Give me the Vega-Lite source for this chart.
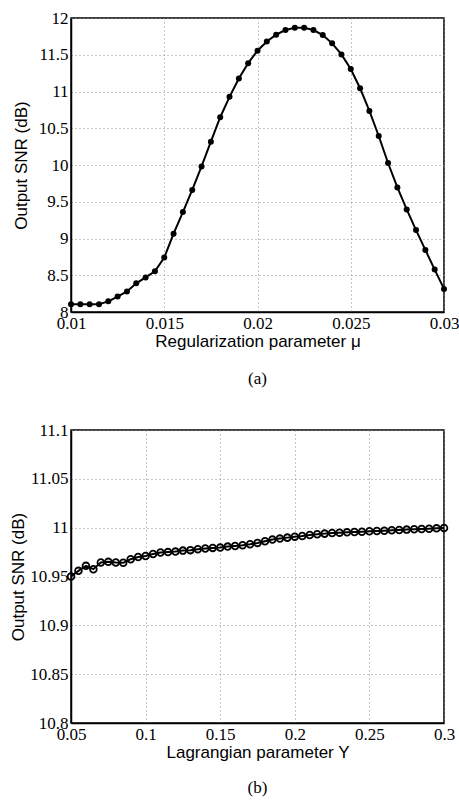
{
  "$schema": "https://vega.github.io/schema/vega-lite/v6.json",
  "background": "white",
  "padding": {"left": 8, "top": 8, "right": 0, "bottom": 0},
  "spacing": 32,
  "datasets": {
    "a": [
      {"mu": 0.01, "snr": 8.105},
      {"mu": 0.0105, "snr": 8.105},
      {"mu": 0.011, "snr": 8.105},
      {"mu": 0.0115, "snr": 8.105},
      {"mu": 0.012, "snr": 8.145},
      {"mu": 0.0125, "snr": 8.21},
      {"mu": 0.013, "snr": 8.28},
      {"mu": 0.0135, "snr": 8.39},
      {"mu": 0.014, "snr": 8.47},
      {"mu": 0.0145, "snr": 8.555},
      {"mu": 0.015, "snr": 8.74},
      {"mu": 0.0155, "snr": 9.065},
      {"mu": 0.016, "snr": 9.36},
      {"mu": 0.0165, "snr": 9.66},
      {"mu": 0.017, "snr": 9.98},
      {"mu": 0.0175, "snr": 10.318},
      {"mu": 0.018, "snr": 10.65},
      {"mu": 0.0185, "snr": 10.927},
      {"mu": 0.019, "snr": 11.177},
      {"mu": 0.0195, "snr": 11.386},
      {"mu": 0.02, "snr": 11.555},
      {"mu": 0.0205, "snr": 11.68},
      {"mu": 0.021, "snr": 11.773},
      {"mu": 0.0215, "snr": 11.836},
      {"mu": 0.022, "snr": 11.868},
      {"mu": 0.0225, "snr": 11.868},
      {"mu": 0.023, "snr": 11.836},
      {"mu": 0.0235, "snr": 11.768},
      {"mu": 0.024, "snr": 11.655},
      {"mu": 0.0245, "snr": 11.505},
      {"mu": 0.025, "snr": 11.305},
      {"mu": 0.0255, "snr": 11.045},
      {"mu": 0.026, "snr": 10.736},
      {"mu": 0.0265, "snr": 10.395},
      {"mu": 0.027, "snr": 10.027},
      {"mu": 0.0275, "snr": 9.695},
      {"mu": 0.028, "snr": 9.395},
      {"mu": 0.0285, "snr": 9.114},
      {"mu": 0.029, "snr": 8.845},
      {"mu": 0.0295, "snr": 8.577},
      {"mu": 0.03, "snr": 8.314}
    ],
    "b": [
      {"gamma": 0.05, "snr": 10.95},
      {"gamma": 0.055, "snr": 10.9558},
      {"gamma": 0.06, "snr": 10.9609},
      {"gamma": 0.065, "snr": 10.9575},
      {"gamma": 0.07, "snr": 10.9643},
      {"gamma": 0.075, "snr": 10.965},
      {"gamma": 0.08, "snr": 10.9643},
      {"gamma": 0.085, "snr": 10.964},
      {"gamma": 0.09, "snr": 10.9677},
      {"gamma": 0.095, "snr": 10.97},
      {"gamma": 0.1, "snr": 10.971},
      {"gamma": 0.105, "snr": 10.973},
      {"gamma": 0.11, "snr": 10.9745},
      {"gamma": 0.115, "snr": 10.975},
      {"gamma": 0.12, "snr": 10.9755},
      {"gamma": 0.125, "snr": 10.9765},
      {"gamma": 0.13, "snr": 10.977},
      {"gamma": 0.135, "snr": 10.978},
      {"gamma": 0.14, "snr": 10.9786},
      {"gamma": 0.145, "snr": 10.9793},
      {"gamma": 0.15, "snr": 10.9796},
      {"gamma": 0.155, "snr": 10.9806},
      {"gamma": 0.16, "snr": 10.9813},
      {"gamma": 0.165, "snr": 10.982},
      {"gamma": 0.17, "snr": 10.983},
      {"gamma": 0.175, "snr": 10.9844},
      {"gamma": 0.18, "snr": 10.9861},
      {"gamma": 0.185, "snr": 10.9878},
      {"gamma": 0.19, "snr": 10.9888},
      {"gamma": 0.195, "snr": 10.9898},
      {"gamma": 0.2, "snr": 10.9908},
      {"gamma": 0.205, "snr": 10.9915},
      {"gamma": 0.21, "snr": 10.9925},
      {"gamma": 0.215, "snr": 10.9932},
      {"gamma": 0.22, "snr": 10.9939},
      {"gamma": 0.225, "snr": 10.9946},
      {"gamma": 0.23, "snr": 10.9949},
      {"gamma": 0.235, "snr": 10.9952},
      {"gamma": 0.24, "snr": 10.9956},
      {"gamma": 0.245, "snr": 10.9959},
      {"gamma": 0.25, "snr": 10.9963},
      {"gamma": 0.255, "snr": 10.9966},
      {"gamma": 0.26, "snr": 10.9969},
      {"gamma": 0.265, "snr": 10.9973},
      {"gamma": 0.27, "snr": 10.9976},
      {"gamma": 0.275, "snr": 10.998},
      {"gamma": 0.28, "snr": 10.9983},
      {"gamma": 0.285, "snr": 10.9986},
      {"gamma": 0.29, "snr": 10.999},
      {"gamma": 0.295, "snr": 10.9993},
      {"gamma": 0.3, "snr": 10.9997}
    ]
  },
  "config": {
    "view": {"stroke": "black", "strokeWidth": 1.5},
    "title": {
      "font": "Liberation Serif",
      "fontSize": 17,
      "fontWeight": "normal",
      "color": "black",
      "orient": "bottom",
      "anchor": "middle"
    }
  },
  "vconcat": [
    {
      "width": 373,
      "height": 294,
      "title": {"text": "(a)", "offset": 22},
      "data": {"name": "a"},
      "mark": {"type": "line", "color": "black", "strokeWidth": 2, "point": {"filled": true, "color": "black", "size": 36}},
      "encoding": {
        "x": {
          "field": "mu", "type": "quantitative",
          "scale": {"domain": [0.01, 0.03], "nice": false, "zero": false},
          "axis": {
            "values": [0.01, 0.015, 0.02, 0.025, 0.03], "format": "~g",
            "title": "Regularization parameter μ", "titlePadding": 2,
            "labelFont": "Times New Roman, Liberation Serif, serif", "labelFontSize": 17, "labelColor": "black", "labelPadding": 3, "labelFlush": false, "labelOverlap": false,
            "titleFont": "Liberation Sans", "titleFontSize": 17, "titleFontWeight": "normal", "titleColor": "black",
            "domainColor": "black", "domainWidth": 1.5, "ticks": false,
            "grid": true, "gridColor": "#8c8c8c", "gridDash": [1, 3], "gridWidth": 1
          }
        },
        "y": {
          "field": "snr", "type": "quantitative",
          "scale": {"domain": [8, 12], "nice": false, "zero": false},
          "axis": {
            "values": [8, 8.5, 9, 9.5, 10, 10.5, 11, 11.5, 12], "format": "~g",
            "title": "Output SNR (dB)", "minExtent": 40, "maxExtent": 40, "titlePadding": 1,
            "labelFont": "Times New Roman, Liberation Serif, serif", "labelFontSize": 17, "labelColor": "black", "labelPadding": 3, "labelFlush": false, "labelOverlap": false,
            "titleFont": "Liberation Sans", "titleFontSize": 17, "titleFontWeight": "normal", "titleColor": "black",
            "domainColor": "black", "domainWidth": 1.5, "ticks": false,
            "grid": true, "gridColor": "#8c8c8c", "gridDash": [1, 3], "gridWidth": 1
          }
        }
      }
    },
    {
      "width": 373,
      "height": 293,
      "title": {"text": "(b)", "offset": 20},
      "data": {"name": "b"},
      "mark": {"type": "line", "color": "black", "strokeWidth": 2, "point": {"filled": false, "color": "black", "size": 45, "strokeWidth": 1.8}},
      "encoding": {
        "x": {
          "field": "gamma", "type": "quantitative",
          "scale": {"domain": [0.05, 0.3], "nice": false, "zero": false},
          "axis": {
            "values": [0.05, 0.1, 0.15, 0.2, 0.25, 0.3], "format": "~g",
            "title": "Lagrangian parameter Y", "titlePadding": 2,
            "labelFont": "Times New Roman, Liberation Serif, serif", "labelFontSize": 17, "labelColor": "black", "labelPadding": 3, "labelFlush": false, "labelOverlap": false,
            "titleFont": "Liberation Sans", "titleFontSize": 17, "titleFontWeight": "normal", "titleColor": "black",
            "domainColor": "black", "domainWidth": 1.5, "ticks": false,
            "grid": true, "gridColor": "#8c8c8c", "gridDash": [1, 3], "gridWidth": 1
          }
        },
        "y": {
          "field": "snr", "type": "quantitative",
          "scale": {"domain": [10.8, 11.1], "nice": false, "zero": false},
          "axis": {
            "values": [10.8, 10.85, 10.9, 10.95, 11, 11.05, 11.1], "format": "~g",
            "title": "Output SNR (dB)", "minExtent": 40, "maxExtent": 40, "titlePadding": 4,
            "labelFont": "Times New Roman, Liberation Serif, serif", "labelFontSize": 17, "labelColor": "black", "labelPadding": 3, "labelFlush": false, "labelOverlap": false,
            "titleFont": "Liberation Sans", "titleFontSize": 17, "titleFontWeight": "normal", "titleColor": "black",
            "domainColor": "black", "domainWidth": 1.5, "ticks": false,
            "grid": true, "gridColor": "#8c8c8c", "gridDash": [1, 3], "gridWidth": 1
          }
        }
      }
    }
  ]
}
